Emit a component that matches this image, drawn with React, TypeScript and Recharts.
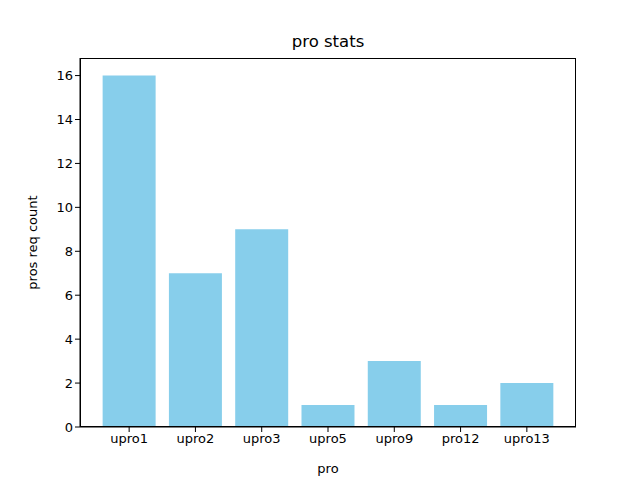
import React from 'react';
import { BarChart, Bar, XAxis, YAxis } from 'recharts';

const categories = ['upro1', 'upro2', 'upro3', 'upro5', 'upro9', 'pro12', 'upro13'];
const counts = [16, 7, 9, 1, 3, 1, 2];
const yTicks = [0, 2, 4, 6, 8, 10, 12, 14, 16];

const data = categories.map((name, i) => ({ name, count: counts[i] }));

const font = 'DejaVu Sans, sans-serif';

export default function App() {
  return (
    <div style={{ position: 'absolute', left: 0, top: 0, width: 640, height: 480, background: '#fff', fontFamily: font }}>
      <div style={{ position: 'absolute', top: 32, width: 640, left: 8, textAlign: 'center', fontSize: 16.5, color: '#000' }}>pro stats</div>
      <BarChart width={640} height={480} data={data} margin={{ top: 58, right: 64, left: 30, bottom: 23 }} barCategoryGap="10%">
        <XAxis
          dataKey="name"
          height={30}
          padding={{ left: 16, right: 16 }}
          tick={{ fill: '#000', fontSize: 13, fontFamily: font }}
          tickSize={5}
          stroke="#000"
          tickLine={{ stroke: '#000' }}
          label={{ value: 'pro', position: 'insideBottom', offset: -16, fill: '#000', fontSize: 13, fontFamily: font }}
        />
        <YAxis
          width={50}
          domain={[0, 16.8]}
          ticks={yTicks}
          tick={{ fill: '#000', fontSize: 13, fontFamily: font }}
          tickSize={5}
          stroke="#000"
          label={{ value: 'pros req count', angle: -90, position: 'insideLeft', offset: 2, fill: '#000', fontSize: 13, fontFamily: font, style: { textAnchor: 'middle' } }}
        />
        <Bar dataKey="count" fill="#87CEEB" isAnimationActive={false} />
      </BarChart>
      <div style={{ position: 'absolute', left: 80, top: 58, width: 496, height: 369, border: '1px solid #000', boxSizing: 'border-box', pointerEvents: 'none' }} />
    </div>
  );
}
